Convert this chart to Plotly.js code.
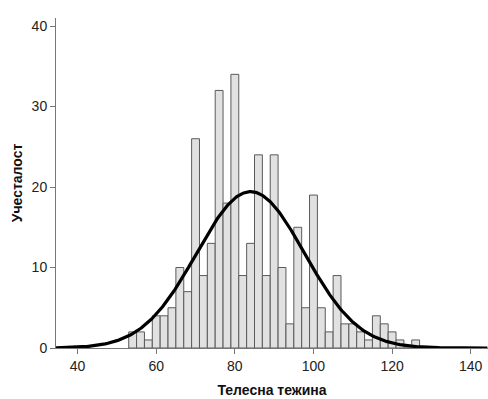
<!DOCTYPE html>
<html>
<head>
<meta charset="utf-8">
<script src="https://cdn.plot.ly/plotly-3.0.1.min.js"></script>
<style>html,body{margin:0;padding:0;background:#fff;}#chart{width:488px;height:399px;}</style>
</head>
<body>
<div id="chart"></div>
<script>
// Histogram bins (bin centres, width 2) and counts
const binCenters = [54,56,58,60,62,64,66,68,70,72,74,76,78,80,82,84,86,88,90,92,94,96,98,100,102,104,106,108,110,112,114,116,118,120,122,124,126];
const counts     = [ 2, 2, 1, 4, 4, 5,10, 7,26, 9,13,32,18,34, 9,13,24, 9,24,10, 3,15, 5, 19,  5,  2,  9,  3,  3,  2,  1,  4,  3,  2,  1,  0,  1];
const binWidth = 2;
const xTickVals = [40,60,80,100,120,140];
const yTickVals = [0,10,20,30,40];
const xTitle = "Телесна тежина";
const yTitle = "Учесталост";

// Fitted normal curve from the binned data (as the statistics package draws it)
const n = counts.reduce((a,b)=>a+b,0);
const mean = binCenters.reduce((s,x,i)=>s+x*counts[i],0)/n;
const sd = Math.sqrt(binCenters.reduce((s,x,i)=>s+counts[i]*(x-mean)*(x-mean),0)/(n-1));
const xRange = [34.5, 144.4];
const curveX = [], curveY = [];
for (let x = xRange[0]; x <= xRange[1] + 1e-9; x += 0.25) {
  curveX.push(x);
  curveY.push(n*binWidth/(sd*Math.sqrt(2*Math.PI))*Math.exp(-0.5*((x-mean)/sd)**2));
}

const traces = [
  {type:'bar', x:binCenters, y:counts, width:binWidth,
   marker:{color:'#e1e1e1', line:{color:'#5a5a5a', width:1}}, hoverinfo:'skip'},
  {type:'scatter', mode:'lines', x:curveX, y:curveY,
   line:{color:'#000', width:3.2}, hoverinfo:'skip', cliponaxis:false}
];

const axisFont = {family:'"Liberation Sans", Arial, sans-serif', size:14, color:'#222'};
const layout = {
  width:488, height:399,
  margin:{l:56, r:0, t:18, b:50.5, pad:0},
  paper_bgcolor:'#fff', plot_bgcolor:'#fff',
  showlegend:false, bargap:0,
  font:axisFont,
  xaxis:{range:xRange, tickvals:xTickVals, ticks:'outside', ticklen:5, tickcolor:'#777',
         showgrid:false, zeroline:false, showline:true, linecolor:'#777', linewidth:1,
         tickfont:axisFont,
         title:{text:xTitle, font:{family:'"Liberation Sans", Arial, sans-serif', size:14, color:'#111', weight:'bold'}, standoff:12}},
  yaxis:{range:[0,41], tickvals:yTickVals, ticks:'outside', ticklen:5, tickcolor:'#777',
         showgrid:false, zeroline:false, showline:true, linecolor:'#777', linewidth:1,
         tickfont:axisFont,
         title:{text:yTitle, font:{family:'"Liberation Sans", Arial, sans-serif', size:14, color:'#111', weight:'bold'}, standoff:5}}
};
Plotly.newPlot('chart', traces, layout, {staticPlot:true, displayModeBar:false});
</script>
</body>
</html>
